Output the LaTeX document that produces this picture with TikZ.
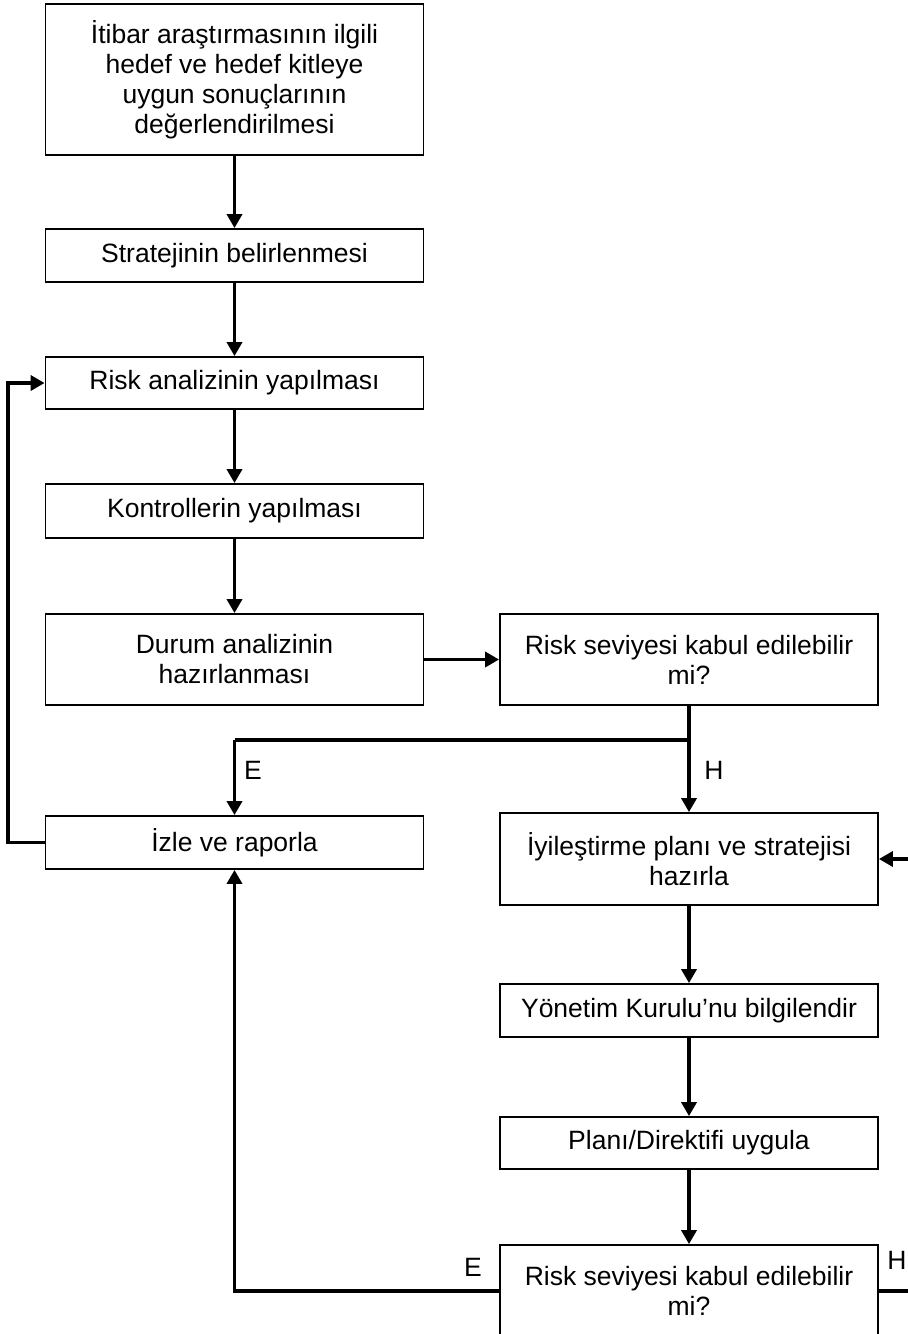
\documentclass[tikz,border=0pt]{standalone}
\usepackage{fontspec}
\setmainfont{Liberation Sans}
\usetikzlibrary{arrows.meta}
\begin{document}
\begin{tikzpicture}[x=1pt,y=-1pt,
  box/.style={draw, line width=1.8pt, minimum width=378pt, align=center, inner sep=0pt,
    font=\fontsize{26.5}{30}\selectfont},
  conn/.style={line width=3.5pt},
  arr/.style={conn, -{Triangle[width=15pt,length=14pt]}},
  lbl/.style={inner sep=0pt, font=\fontsize{26.5}{30}\selectfont}]
\useasboundingbox (0,0) rectangle (908,1334);
% left column
\node[box, minimum height=151pt] (b1) at (234.5,79.5) {İtibar araştırmasının ilgili\\hedef ve hedef kitleye\\uygun sonuçlarının\\değerlendirilmesi};
\node[box, minimum height=53pt] (b2) at (234.5,255.5) {Stratejinin belirlenmesi};
\node[box, minimum height=52pt] (b3) at (234.5,383) {Risk analizinin yapılması};
\node[box, minimum height=54pt] (b4) at (234.5,511) {Kontrollerin yapılması};
\node[box, minimum height=91pt] (b5) at (234.5,659.5) {Durum analizinin\\hazırlanması};
\node[box, minimum height=53pt] (izle) at (234.5,842.5) {İzle ve raporla};
% right column
\node[box, minimum height=91pt] (q1) at (689,659.5) {Risk seviyesi kabul edilebilir\\mi?};
\node[box, minimum height=92pt] (iy) at (689,859) {İyileştirme planı ve stratejisi\\hazırla};
\node[box, minimum height=53pt] (yon) at (689,1010.5) {Yönetim Kurulu’nu bilgilendir};
\node[box, minimum height=52pt] (plan) at (689,1143) {Planı/Direktifi uygula};
\node[box, minimum height=92pt] (fin) at (689,1291) {Risk seviyesi kabul edilebilir\\mi?};
% coordinates
\coordinate (j) at (689,740);
\coordinate (jl) at (234.5,740);
\coordinate (lb) at (8,842.5);
\coordinate (lt) at (8,383);
\coordinate (fl) at (234.5,1291);
\coordinate (fr) at (915,1291);
\coordinate (ir) at (915,859);
% connectors
\draw[arr] (b1) -- (b2);
\draw[arr] (b2) -- (b3);
\draw[arr] (b3) -- (b4);
\draw[arr] (b4) -- (b5);
\draw[arr] (b5) -- (q1);
\draw[conn] (q1.south) -- (j) -- (jl);
\draw[arr] (jl) -- (izle);
\draw[arr] (j) -- (iy);
\draw[arr] (izle.west) -- (lb) -- (lt) -- (b3.west);
\draw[arr] (iy) -- (yon);
\draw[arr] (yon) -- (plan);
\draw[arr] (plan) -- (fin);
\draw[arr] (fin.west) -- (fl) -- (izle);
\draw[conn] (fin.east) -- (fr);
\draw[arr] (ir) -- (iy.east);
% labels
\node[lbl] (e1) at (253,770) {E};
\node[lbl] (h1) at (714,770) {H};
\node[lbl] (e2) at (473,1267) {E};
\node[lbl] (h2) at (897,1260) {H};
\end{tikzpicture}
\end{document}
